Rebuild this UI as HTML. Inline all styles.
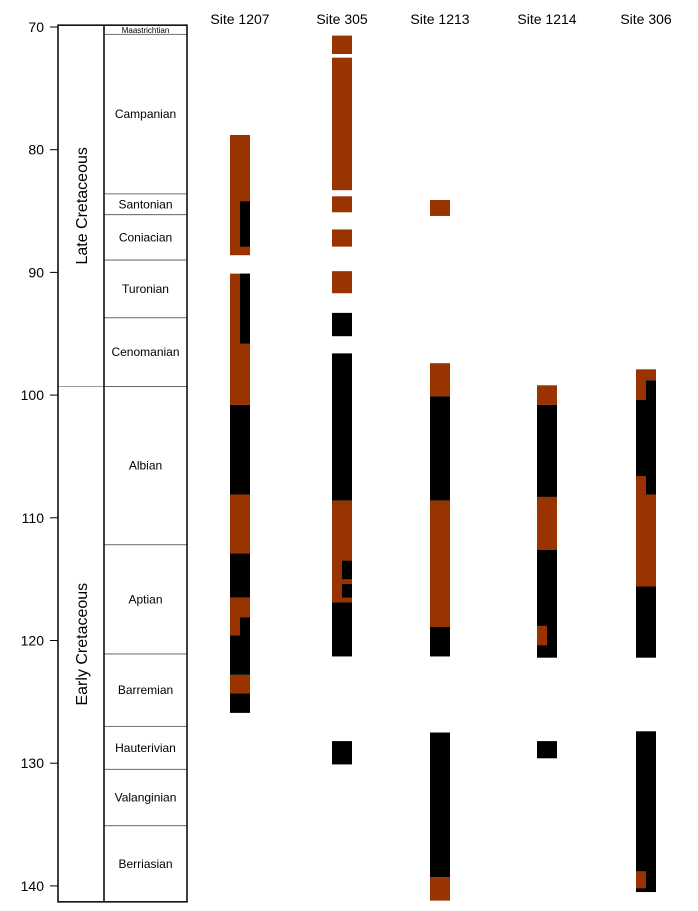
<!DOCTYPE html>
<html><head><meta charset="utf-8"><style>
body{margin:0;background:#fff;font-family:"Liberation Sans",Arial,sans-serif}
svg text{font-family:"Liberation Sans",Arial,sans-serif}
</style></head><body>
<svg id="chart" width="698" height="906" viewBox="0 0 698 906" xmlns="http://www.w3.org/2000/svg"></svg>
<script>
const ticks=[70,80,90,100,110,120,130,140];
const stageNames=["Maastrichtian","Campanian","Santonian","Coniacian","Turonian","Cenomanian","Albian","Aptian","Barremian","Hauterivian","Valanginian","Berriasian"];
const stageBounds=[69.85,70.6,83.6,85.3,89.0,93.7,99.3,112.2,121.1,127.0,130.5,135.1,141.3];
const epochNames=["Late Cretaceous","Early Cretaceous"];
const epochBounds=[69.85,99.3,141.3];
const sites=["Site 1207","Site 305","Site 1213","Site 1214","Site 306"];
// segments: [site index, top age, bottom age, color (b=brown,k=black), part (f=full,l=left,r=right)]
const segments=[
[0,78.8,88.6,"b","f"],[0,84.2,87.9,"k","r"],
[0,90.1,100.8,"b","f"],[0,90.1,95.8,"k","r"],
[0,100.8,108.1,"k","f"],[0,108.1,112.9,"b","f"],[0,112.9,116.5,"k","f"],
[0,116.5,118.1,"b","f"],[0,118.1,122.8,"k","f"],[0,118.1,119.6,"b","l"],
[0,122.8,124.3,"b","f"],[0,124.3,125.9,"k","f"],
[1,70.7,72.2,"b","f"],[1,72.5,83.3,"b","f"],[1,83.8,85.1,"b","f"],[1,86.5,87.9,"b","f"],
[1,89.9,91.7,"b","f"],[1,93.3,95.2,"k","f"],[1,96.6,108.6,"k","f"],[1,108.6,116.9,"b","f"],
[1,113.5,115.0,"k","r"],[1,115.4,116.5,"k","r"],[1,116.9,121.3,"k","f"],[1,128.2,130.1,"k","f"],
[2,84.1,85.4,"b","f"],[2,97.4,100.1,"b","f"],[2,100.1,108.6,"k","f"],[2,108.6,118.9,"b","f"],
[2,118.9,121.3,"k","f"],[2,127.5,139.3,"k","f"],[2,139.3,141.2,"b","f"],
[3,99.2,100.8,"b","f"],[3,100.8,108.3,"k","f"],[3,108.3,112.6,"b","f"],[3,112.6,121.4,"k","f"],
[3,118.8,120.4,"b","l"],[3,128.2,129.6,"k","f"],
[4,97.9,98.8,"b","f"],[4,98.8,108.1,"k","f"],[4,98.8,100.4,"b","l"],[4,106.6,108.1,"b","l"],
[4,108.1,115.6,"b","f"],[4,115.6,121.4,"k","f"],[4,127.4,140.5,"k","f"],[4,138.8,140.2,"b","l"]
];
const NS="http://www.w3.org/2000/svg";
const svg=document.getElementById('chart');
const y=a=>27+(a-70)*12.27;
const siteX=i=>[230,332,430,537,636][i];
const W=20;
function el(t,at){const e=document.createElementNS(NS,t);for(const k in at)e.setAttribute(k,at[k]);svg.appendChild(e);return e;}
// axis ticks
ticks.forEach(t=>{
 const l=el('line',{x1:50,x2:58,y1:y(t),y2:y(t),stroke:'#000','stroke-width':1});
 
 
 const tx=el('text',{x:44,y:y(t)+5,'text-anchor':'end','font-size':14});
 tx.textContent=t;
 
 
});
// stages
stageNames.forEach((n,i)=>{
 const t=y(stageBounds[i]),b=y(stageBounds[i+1]);
 const r=el('rect',{x:104,y:t,width:83,height:b-t,fill:'#fff',stroke:'#555','stroke-width':0.8});
 
 
 const tx=el('text',{x:145.5,y:(t+b)/2+(i==0?3:4),'text-anchor':'middle','font-size':i==0?8:12});
 tx.textContent=n;
 
 
});
// epochs
epochNames.forEach((n,i)=>{
 const t=y(epochBounds[i]),b=y(epochBounds[i+1]);
 const r=el('rect',{x:58,y:t,width:46,height:b-t,fill:'none',stroke:'#999','stroke-width':0.8});
 
 
 const cy=(t+b)/2;
 const tx=el('text',{x:81,y:cy,'text-anchor':'middle','font-size':16,transform:`rotate(-90 81 ${cy}) translate(0 6)`});
 tx.textContent=n;
 
 
});
// frame
const f1=el('rect',{x:58,y:y(69.85),width:129,height:y(141.3)-y(69.85),fill:'none',stroke:'#000','stroke-width':1.5});


const f2=el('line',{x1:104,x2:104,y1:y(69.85),y2:y(141.3),stroke:'#000','stroke-width':1.5});


// site titles
sites.forEach((s,i)=>{
 const tx=el('text',{x:siteX(i)+W/2,y:24,'text-anchor':'middle','font-size':14});
 tx.textContent=s;
 
 
});
// segments
segments.forEach(s=>{
 const [si,t,b,c,p]=s;
 let x=siteX(si),w=W;
 if(p==='r'){x+=W/2;w=W/2;} else if(p==='l'){w=W/2;}
 const r=el('rect',{x:x,y:y(t),width:w,height:y(b)-y(t),fill:c==='b'?'#993300':'#000'});
 
 
});
</script>
</body></html>
